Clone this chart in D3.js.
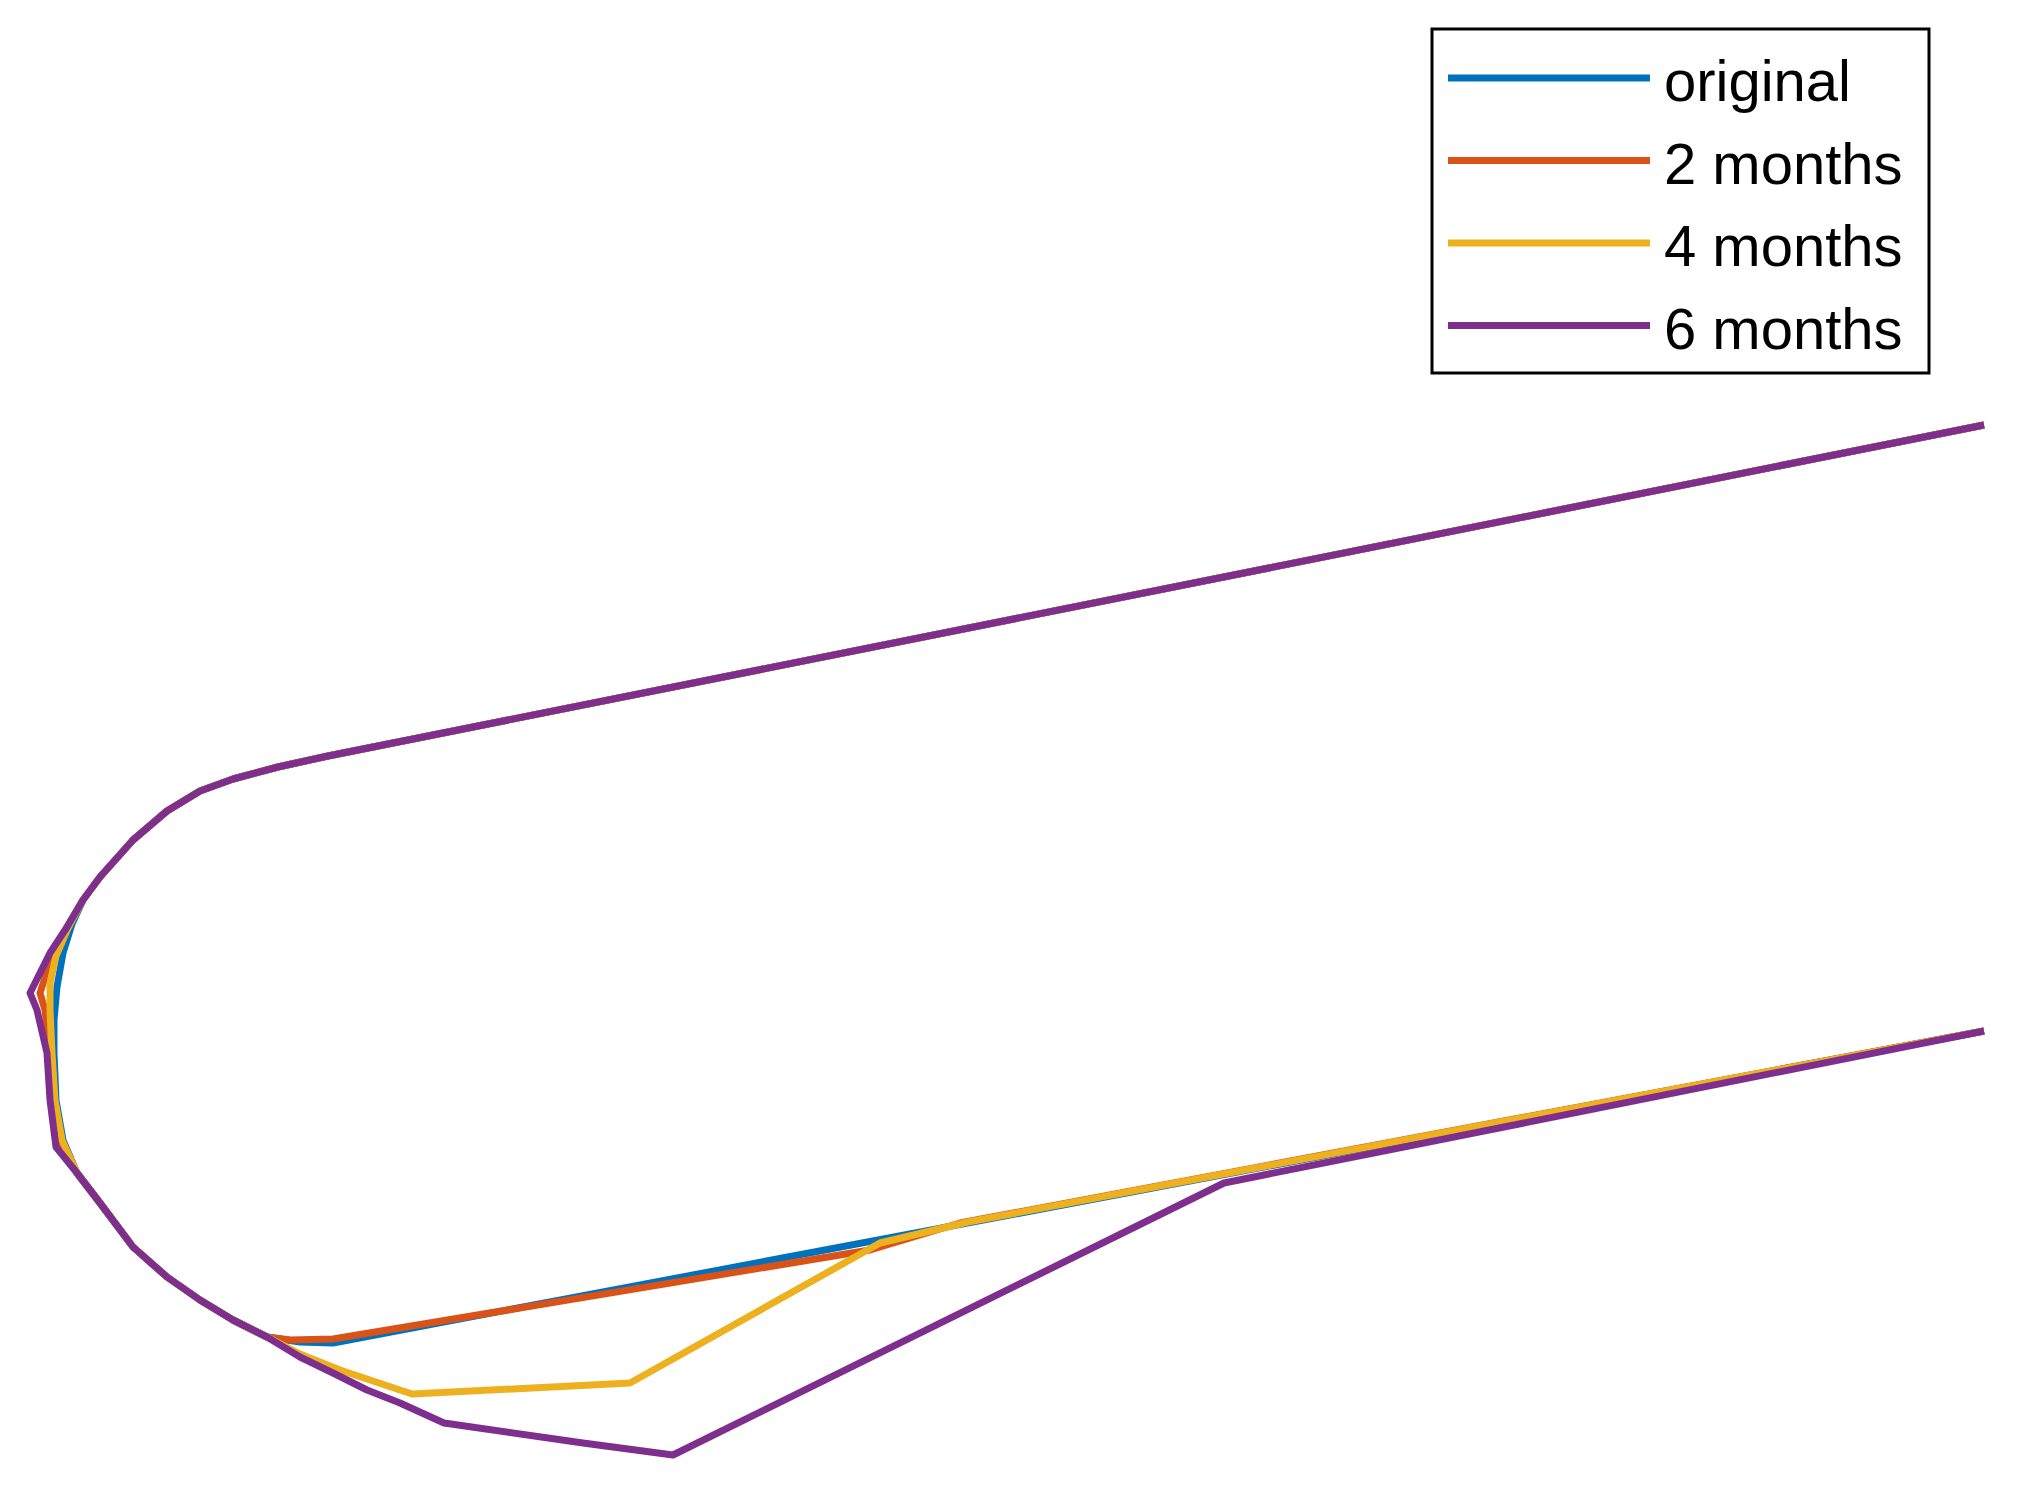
<!DOCTYPE html>
<html>
<head>
<meta charset="utf-8">
<script src="https://cdn.jsdelivr.net/npm/d3@7"></script>
<style>
  html, body { margin: 0; padding: 0; background: #fff; }
</style>
</head>
<body>
<script>
// legend labels and colours (MATLAB default order)
const seriesNames = ["original", "2 months", "4 months", "6 months"];
const seriesColors = ["#0072BD", "#D95319", "#EDB120", "#7E2F8E"];

// shared upper arm, from right end back to the start of the nose
const upperArm = [[97.8, 51.75], [15.0, 35.2], [12.5, 34.65], [10.25, 34.05], [8.6, 33.45], [6.95, 32.45],
  [5.25, 31.0], [3.6, 29.15], [2.75, 28.0]];

// nose of each curve
const originalNose = [[2.2, 26.8], [1.75, 25.35], [1.45, 23.65], [1.3, 22.0], [1.3, 20.35], [1.4, 18.0], [1.75, 16.0]];
const twoMonthNose = [[1.95, 26.65], [1.2, 25.2], [0.6, 23.35], [0.85, 22.5], [1.1, 20.35], [1.25, 18.0], [1.6, 15.85]];
const fourMonthNose = [[2.0, 26.6], [1.4, 25.2], [1.1, 23.85], [1.1, 22.5], [1.2, 20.35], [1.35, 18.0], [1.7, 16.0]];
const sixMonthNose = [[1.95, 26.65], [1.1, 25.35], [0.1, 23.35], [0.45, 22.5], [0.95, 20.35], [1.1, 18.0], [1.4, 15.65]];

// shared lower arc
const lowerArc = [[2.45, 14.35], [3.6, 12.85], [5.25, 10.65], [6.95, 9.15], [8.6, 8.0], [10.25, 7.0], [11.95, 6.15]];

// lower arm of each curve
const originalTail = [[13.6, 5.9], [15.25, 5.85], [97.8, 21.45]];
const twoMonthTail = [[13.1, 6.0], [15.25, 6.05], [42.1, 10.5], [46.6, 11.85], [97.8, 21.45]];
const fourMonthTail = [[13.6, 5.3], [15.6, 4.5], [19.2, 3.3], [30.1, 3.85], [42.6, 10.85], [47.0, 11.9], [97.8, 21.45]];
const sixMonthTail = [[13.6, 5.15], [15.25, 4.35], [16.95, 3.5], [18.6, 2.85], [20.8, 1.85], [27.75, 0.85],
  [32.25, 0.25], [59.8, 13.85], [97.8, 21.45]];

const curves = [
  upperArm.concat(originalNose, lowerArc, originalTail),
  upperArm.concat(twoMonthNose, lowerArc, twoMonthTail),
  upperArm.concat(fourMonthNose, lowerArc, fourMonthTail),
  upperArm.concat(sixMonthNose, lowerArc, sixMonthTail)
];

const width = 2020, height = 1489;

const svg = d3.select("body").append("svg")
  .attr("width", width)
  .attr("height", height);

const x = d3.scaleLinear().domain([0, 100]).range([28, 2028]);
const y = d3.scaleLinear().domain([0, 70]).range([1460, 60]);

const line = d3.line()
  .x(d => x(d[0]))
  .y(d => y(d[1]));

svg.selectAll("path.curve")
  .data(curves)
  .join("path")
  .attr("class", "curve")
  .attr("d", line)
  .attr("fill", "none")
  .attr("stroke", (d, i) => seriesColors[i])
  .attr("stroke-width", 7)
  .attr("stroke-linejoin", "round")
  .attr("stroke-linecap", "butt");

// legend
const legend = svg.append("g").attr("transform", "translate(1432,29)");

legend.append("rect")
  .attr("width", 497)
  .attr("height", 344)
  .attr("fill", "#fff")
  .attr("stroke", "#000")
  .attr("stroke-width", 3);

const items = legend.selectAll("g.item")
  .data(seriesNames)
  .join("g")
  .attr("class", "item")
  .attr("transform", (d, i) => `translate(0,${49 + i * 82.5})`);

items.append("line")
  .attr("x1", 16)
  .attr("x2", 218)
  .attr("stroke", (d, i) => seriesColors[i])
  .attr("stroke-width", 7);

items.append("text")
  .attr("x", 232)
  .attr("y", 23)
  .attr("font-family", "'Liberation Sans', Arial, sans-serif")
  .attr("font-size", 58)
  .attr("fill", "#000")
  .text(d => d);
</script>
</body>
</html>
